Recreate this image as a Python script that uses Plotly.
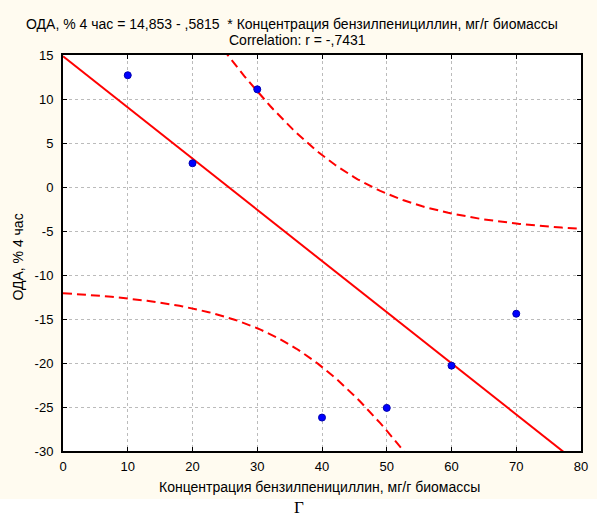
import numpy as np
import plotly.graph_objects as go

# ---- data ----
conc = [10, 20, 30, 40, 50, 60, 70]            # Концентрация бензилпенициллин, мг/г биомассы
oda = [12.7, 2.7, 11.1, -26.2, -25.1, -20.3, -14.4]  # ОДА, % 4 час
intercept = 14.853
slope = -0.5815
t_crit = 2.5706  # t(0.975, df=5)
x_ticks = [0, 10, 20, 30, 40, 50, 60, 70, 80]
y_ticks = [-30, -25, -20, -15, -10, -5, 0, 5, 10, 15]

title1 = "ОДА, % 4 час = 14,853 - ,5815  * Концентрация бензилпенициллин, мг/г биомассы"
title2 = "Correlation: r = -,7431"
xlabel = "Концентрация бензилпенициллин, мг/г биомассы"
ylabel = "ОДА, % 4 час"

# ---- regression line and 95% confidence band derived from the data ----
xd = np.array(conc, float)
yd = np.array(oda, float)
n = len(xd)
resid = yd - (intercept + slope * xd)
s = np.sqrt(np.sum(resid ** 2) / (n - 2))
sxx = np.sum((xd - xd.mean()) ** 2)
xs = np.linspace(0, 80, 161)
fit = intercept + slope * xs
half = t_crit * s * np.sqrt(1.0 / n + (xs - xd.mean()) ** 2 / sxx)

fig = go.Figure()
fig.add_trace(go.Scatter(x=xs, y=fit, mode="lines",
                         line=dict(color="#FF0000", width=2), hoverinfo="skip"))
fig.add_trace(go.Scatter(x=xs, y=fit + half, mode="lines",
                         line=dict(color="#FF0000", width=2, dash="9px,5px"), hoverinfo="skip"))
fig.add_trace(go.Scatter(x=xs, y=fit - half, mode="lines",
                         line=dict(color="#FF0000", width=2, dash="9px,5px"), hoverinfo="skip"))
fig.add_trace(go.Scatter(x=conc, y=oda, mode="markers",
                         marker=dict(color="#0000FF", size=7, line=dict(color="#0000B0", width=1))))

L, R, T, B = 63, 9, 55, 68
W, H = 597, 519
pw, ph = W - L - R, H - T - B

def px_x(p):
    return (p - L) / pw

def px_y(p):
    return (H - B - p) / ph

axis_common = dict(
    showline=True, linecolor="black", linewidth=2, mirror="ticks",
    ticks="inside", ticklen=4, tickcolor="black", tickwidth=1,
    showgrid=True, gridcolor="#BBBBBB", gridwidth=1, griddash="dot",
    zeroline=False, tickfont=dict(family="Liberation Sans, Arial", size=13, color="black"),
)
fig.update_xaxes(range=[0, 80], tickvals=x_ticks, ticktext=[str(v) for v in x_ticks],
                 ticklabelstandoff=2, **axis_common)
fig.update_yaxes(range=[-30, 15], tickvals=y_ticks, ticktext=[str(v) for v in y_ticks],
                 ticklabelstandoff=5, **axis_common)

font = dict(family="Liberation Sans, Arial", size=14, color="black")
fig.update_layout(
    width=W, height=H, margin=dict(l=L, r=R, t=T, b=B),
    paper_bgcolor="#FFFBF0", plot_bgcolor="white", showlegend=False,
    shapes=[dict(type="rect", xref="paper", yref="paper",
                 x0=-1, x1=2, y0=px_y(499), y1=-1, fillcolor="white",
                 line=dict(width=0), layer="below")],
    annotations=[
        dict(text=title1, xref="paper", yref="paper", x=px_x(295), y=px_y(24),
             xanchor="center", yanchor="middle", showarrow=False, font=font),
        dict(text=title2, xref="paper", yref="paper", x=px_x(301), y=px_y(40),
             xanchor="center", yanchor="middle", showarrow=False, font=font),
        dict(text=xlabel, xref="paper", yref="paper", x=px_x(323), y=px_y(487),
             xanchor="center", yanchor="middle", showarrow=False, font=font),
        dict(text=ylabel, xref="paper", yref="paper", x=px_x(17), y=px_y(257),
             xanchor="center", yanchor="middle", showarrow=False, font=font, textangle=-90),
        dict(text="Г", xref="paper", yref="paper", x=px_x(302), y=px_y(507),
             xanchor="center", yanchor="middle", showarrow=False,
             font=dict(family="Liberation Serif, Times New Roman", size=17, color="black")),
    ],
)

fig.write_html("out.html")
